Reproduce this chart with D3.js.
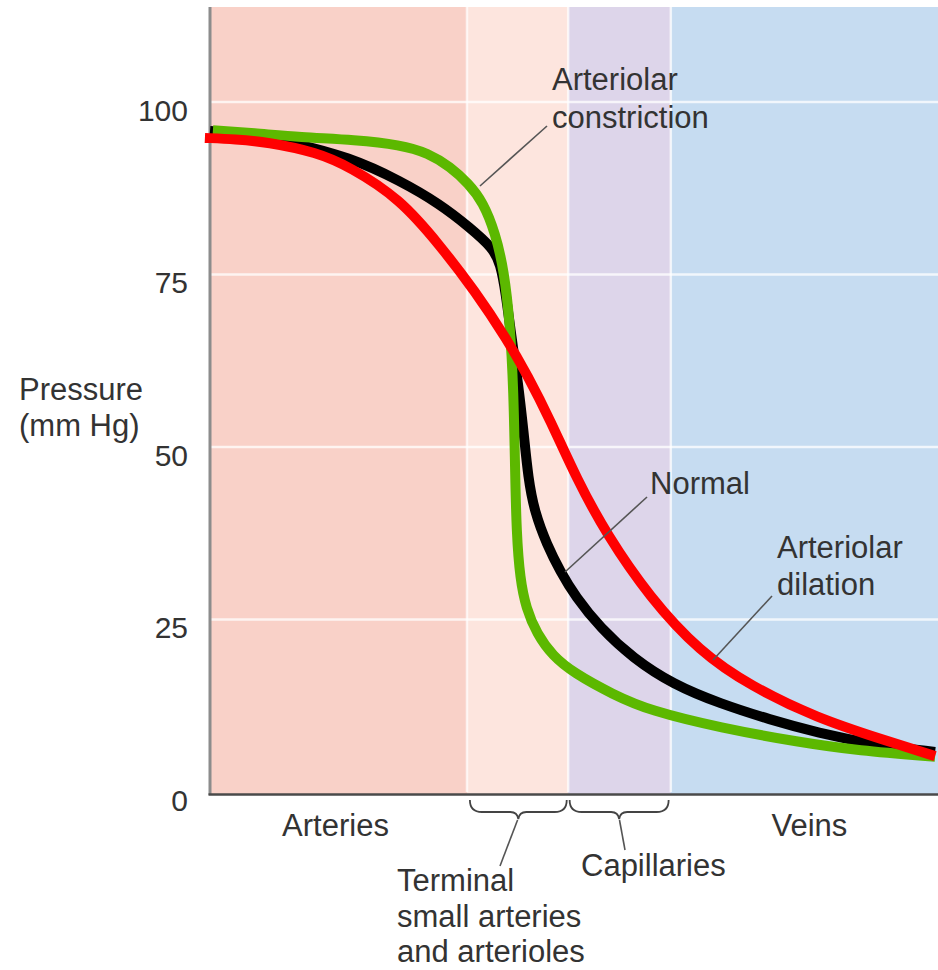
<!DOCTYPE html>
<html>
<head>
<meta charset="utf-8">
<script src="https://cdn.jsdelivr.net/npm/d3@7"></script>
<style>
  html, body { margin: 0; padding: 0; background: #ffffff; }
  svg { display: block; }
  text { font-family: "Liberation Sans", Arial, Helvetica, sans-serif; fill: #333; }
</style>
</head>
<body>
<svg id="chart" width="938" height="970"></svg>
<script>
// ---------- data ----------
const categories = ["Arteries", "Terminal small arteries and arterioles", "Capillaries", "Veins"];
const bandStart = [0, 35.3, 49.2, 63.3];
const bandEnd   = [35.3, 49.2, 63.3, 100];
const bandColors = ["#f9d1c8", "#fde5de", "#ddd5ea", "#c6dcf1"];

const yTicks = [0, 25, 50, 75, 100];

// position along the vascular tree (0-100), pressure (mm Hg)
const normalPos      = [0, 5.5, 11.0, 19.2, 26.1, 31.6, 35.7, 38.9, 39.9, 40.6, 41.4, 42.3, 43.1, 43.7, 44.6, 46.3, 48.1, 50.2, 53.6, 58.1, 63.6, 70.1, 76.9, 83.4, 91.6, 99.6];
const normalPressure = [95.8, 95.3, 94.2, 92.0, 88.6, 85.2, 81.8, 78.8, 76.5, 72.5, 66.0, 59.5, 52.0, 45.5, 40.5, 35.8, 32.0, 28.3, 23.8, 19.4, 15.6, 12.8, 10.5, 8.6, 6.8, 5.8];

const constrPos      = [0.4, 6.0, 12.4, 20.0, 26.1, 30.0, 33.0, 35.5, 37.5, 39.2, 40.4, 41.2, 41.7, 41.9, 42.1, 42.6, 43.4, 44.9, 47.1, 49.9, 55.4, 60.4, 70.1, 81.0, 89.0, 99.6];
const constrPressure = [95.9, 95.5, 94.9, 94.5, 93.8, 92.6, 90.6, 88.2, 85.5, 81.0, 75.5, 68.0, 58.0, 47.0, 37.5, 30.8, 26.7, 22.9, 19.7, 17.3, 14.1, 11.8, 9.3, 7.2, 6.0, 5.1];

const dilPos         = [-0.7, 3.5, 7.8, 14.7, 19.2, 26.1, 31.6, 36.4, 40.8, 43.6, 46.7, 50.4, 54.5, 60.4, 67.3, 74.2, 83.4, 92.4, 99.6];
const dilPressure    = [94.8, 94.6, 94.2, 92.7, 90.6, 86.0, 79.2, 72.6, 65.6, 60.4, 54.0, 45.3, 37.3, 28.2, 20.3, 15.4, 10.7, 7.6, 5.2];

const seriesNames  = ["Normal", "Arteriolar constriction", "Arteriolar dilation"];
const seriesColors = ["#000000", "#5cb800", "#ff0000"];

// ---------- chart ----------
const svg = d3.select("#chart");
const x = d3.scaleLinear().domain([0, 100]).range([210, 938]);
const y = d3.scaleLinear().domain([0, 113.77]).range([792, 7]);

// bands
const bands = categories.map((c, i) => ({ name: c, x0: bandStart[i], x1: bandEnd[i], color: bandColors[i] }));
svg.append("g").selectAll("rect").data(bands).join("rect")
  .attr("x", d => x(d.x0)).attr("width", d => x(d.x1) - x(d.x0))
  .attr("y", y(113.77)).attr("height", y(0) - y(113.77) + 2)
  .attr("fill", d => d.color);

// band dividers
svg.append("g").selectAll("line").data(bandStart.slice(1)).join("line")
  .attr("x1", d => x(d)).attr("x2", d => x(d))
  .attr("y1", y(113.77)).attr("y2", y(0))
  .attr("stroke", "#ffffff").attr("stroke-opacity", 0.7).attr("stroke-width", 2.5);

// gridlines
svg.append("g").selectAll("line").data(yTicks.filter(t => t > 0)).join("line")
  .attr("x1", x(0)).attr("x2", x(100))
  .attr("y1", d => y(d)).attr("y2", d => y(d))
  .attr("stroke", "#ffffff").attr("stroke-opacity", 0.75).attr("stroke-width", 2.5);

// y axis labels
const yAxis = d3.axisLeft(y).tickValues(yTicks).tickSize(0).tickPadding(0);
const gy = svg.append("g").attr("transform", "translate(188,0)").call(yAxis);
gy.select(".domain").remove();
gy.selectAll("text")
  .attr("font-family", "Liberation Sans, Arial, sans-serif")
  .attr("font-size", 30).attr("fill", "#3a3a3a").attr("dy", "0.6em");

// axes lines
svg.append("line").attr("x1", x(0)).attr("x2", x(0)).attr("y1", y(113.77)).attr("y2", y(0) + 3)
  .attr("stroke", "#8c8c8c").attr("stroke-width", 3);
svg.append("line").attr("x1", x(0) - 1.5).attr("x2", x(100)).attr("y1", y(0) + 2.5).attr("y2", y(0) + 2.5)
  .attr("stroke", "#4a4a4a").attr("stroke-width", 2.5);

// curves (normal under constriction under dilation)
const series = [
  { pos: normalPos, p: normalPressure, color: seriesColors[0] },
  { pos: constrPos, p: constrPressure, color: seriesColors[1] },
  { pos: dilPos, p: dilPressure, color: seriesColors[2] }
];
const line = d3.line().x(d => x(d[0])).y(d => y(d[1])).curve(d3.curveBasis);
svg.append("g").selectAll("path").data(series).join("path")
  .attr("d", s => line(s.pos.map((v, i) => [v, s.p[i]])))
  .attr("fill", "none").attr("stroke", s => s.color)
  .attr("stroke-width", 10).attr("stroke-linecap", "butt").attr("stroke-linejoin", "round");

// annotations
const ann = svg.append("g").attr("font-size", 31);
function label(lines, lx, ly, lh) {
  const t = ann.append("text").attr("x", lx).attr("y", ly).attr("fill", "#333");
  lines.forEach((s, i) => t.append("tspan").attr("x", lx).attr("dy", i === 0 ? 0 : lh).text(s));
}
function leader(x1, y1, x2, y2) {
  ann.append("line").attr("x1", x1).attr("y1", y1).attr("x2", x2).attr("y2", y2)
    .attr("stroke", "#555").attr("stroke-width", 1.6);
}
label(["Arteriolar", "constriction"], 552, 90, 38);
leader(547, 126, 480, 186);
label(["Normal"], 650, 494, 0);
leader(647, 497, 565, 572);
label(["Arteriolar", "dilation"], 777, 558, 37);
leader(772, 596, 713, 660);
label(["Pressure", "(mm Hg)"], 19, 400, 36);

// bottom labels
ann.append("text").attr("x", (x(bandStart[0]) + x(bandEnd[0])) / 2 - 3).attr("y", 836)
  .attr("text-anchor", "middle").text(categories[0]);
ann.append("text").attr("x", (x(bandStart[3]) + x(bandEnd[3])) / 2 + 5).attr("y", 836)
  .attr("text-anchor", "middle").text(categories[3]);
label(["Terminal", "small arteries", "and arterioles"], 397, 891, 35.5);
label([categories[2]], 581, 876, 0);

// braces
function brace(a, b) {
  const xa = x(a), xb = x(b), xm = (xa + xb) / 2, top = 800, mid = 812, tip = 819;
  return `M${xa},${top} Q${xa},${mid} ${xa + 12},${mid} L${xm - 8},${mid} Q${xm - 1},${mid} ${xm},${tip} ` +
         `Q${xm + 1},${mid} ${xm + 8},${mid} L${xb - 12},${mid} Q${xb},${mid} ${xb},${top}`;
}
ann.append("path").attr("d", brace(bandStart[1] + 0.4, bandEnd[1] - 0.2))
  .attr("fill", "none").attr("stroke", "#444").attr("stroke-width", 1.8);
ann.append("path").attr("d", brace(bandStart[2] + 0.2, bandEnd[2] - 0.3))
  .attr("fill", "none").attr("stroke", "#444").attr("stroke-width", 1.8);
leader((x(bandStart[1]) + x(bandEnd[1])) / 2, 820, 500, 866);
leader((x(bandStart[2]) + x(bandEnd[2])) / 2, 820, 625, 850);
</script>
</body>
</html>
